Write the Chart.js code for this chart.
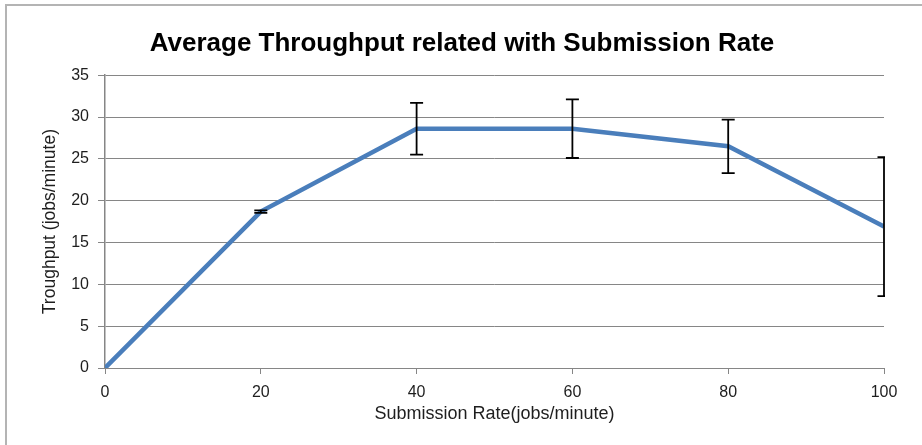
<!DOCTYPE html>
<html>
<head>
<meta charset="utf-8">
<script src="https://cdn.jsdelivr.net/npm/chart.js@4.4.0/dist/chart.umd.min.js"></script>
<style>
  html, body { margin: 0; padding: 0; background: #fff; }
  #wrap { position: relative; width: 922px; height: 445px; }
  #frame { position: absolute; left: 5px; top: 4px; right: 0; bottom: 0;
           border-left: 2px solid #b4b4b4; border-top: 2px solid #b4b4b4; pointer-events: none; }
</style>
</head>
<body>
<div id="wrap">
  <canvas id="c" width="922" height="445"></canvas>
  <div id="frame"></div>
</div>
<script>
const titleText = 'Average Throughput related with Submission Rate';
const xTitle = 'Submission Rate(jobs/minute)';
const yTitle = 'Troughput (jobs/minute)';
const submissionRates = [0, 20, 40, 60, 80, 100];
const throughput = [0, 18.7, 28.6, 28.6, 26.5, 16.9];
const errorAmounts = [0, 0.15, 3.1, 3.5, 3.2, 8.3];
const yTicks = [0, 5, 10, 15, 20, 25, 30, 35];
const xTicks = [0, 20, 40, 60, 80, 100];

const points = submissionRates.map((x, i) => ({ x: x, y: throughput[i] }));

const errorBarPlugin = {
  id: 'errorBars',
  afterDatasetsDraw(chart) {
    const ctx = chart.ctx;
    const xs = chart.scales.x, ys = chart.scales.y;
    const area = chart.chartArea;
    ctx.save();
    ctx.beginPath();
    ctx.rect(area.left - 8, area.top - 20, area.right - area.left + 9, area.bottom - area.top + 40);
    ctx.clip();
    ctx.strokeStyle = '#000';
    ctx.lineWidth = 1.8;
    submissionRates.forEach((x, i) => {
      const e = errorAmounts[i];
      if (!e) return;
      const px = xs.getPixelForValue(x);
      const top = ys.getPixelForValue(throughput[i] + e);
      const bot = ys.getPixelForValue(throughput[i] - e);
      ctx.beginPath();
      ctx.moveTo(px, top); ctx.lineTo(px, bot);
      ctx.moveTo(px - 6.5, top); ctx.lineTo(px + 6.5, top);
      ctx.moveTo(px - 6.5, bot); ctx.lineTo(px + 6.5, bot);
      ctx.stroke();
    });
    ctx.restore();
  }
};

new Chart(document.getElementById('c'), {
  type: 'line',
  data: {
    datasets: [{
      data: points,
      borderColor: '#4a7ebb',
      borderWidth: 4.5,
      pointRadius: 0,
      tension: 0,
      fill: false
    }]
  },
  options: {
    responsive: false,
    animation: false,
    layout: { padding: { left: 40, right: 38, top: 0, bottom: 20 } },
    plugins: {
      legend: { display: false },
      tooltip: { enabled: false },
      title: {
        display: true,
        text: titleText,
        color: '#000',
        font: { family: 'Liberation Sans', size: 26, weight: 'bold', lineHeight: 1.2 },
        padding: { top: 28, bottom: 16 }
      }
    },
    scales: {
      x: {
        type: 'linear',
        min: 0, max: 100,
        afterBuildTicks(scale) { scale.ticks = xTicks.map(v => ({ value: v })); },
        afterFit(scale) { scale.height = 57; },
        ticks: { color: '#1e1e1e', font: { family: 'Liberation Sans', size: 16 }, padding: 9, maxRotation: 0 },
        grid: { drawOnChartArea: false, drawTicks: true, tickLength: 6, color: '#868686', lineWidth: 1 },
        border: { color: '#868686', width: 1 },
        title: { display: true, text: xTitle, color: '#1e1e1e', font: { family: 'Liberation Sans', size: 18 }, padding: 0 }
      },
      y: {
        min: 0, max: 35,
        afterBuildTicks(scale) { scale.ticks = yTicks.map(v => ({ value: v })); },
        afterFit(scale) { scale.width = 65; },
        ticks: { color: '#1e1e1e', font: { family: 'Liberation Sans', size: 16 }, padding: 9 },
        grid: { color: '#868686', lineWidth: 1, drawTicks: true, tickLength: 7 },
        border: { color: '#868686', width: 1.5 },
        title: { display: true, text: yTitle, color: '#1e1e1e', font: { family: 'Liberation Sans', size: 17.5 }, padding: 0 }
      }
    }
  },
  plugins: [errorBarPlugin]
});
</script>
</body>
</html>
